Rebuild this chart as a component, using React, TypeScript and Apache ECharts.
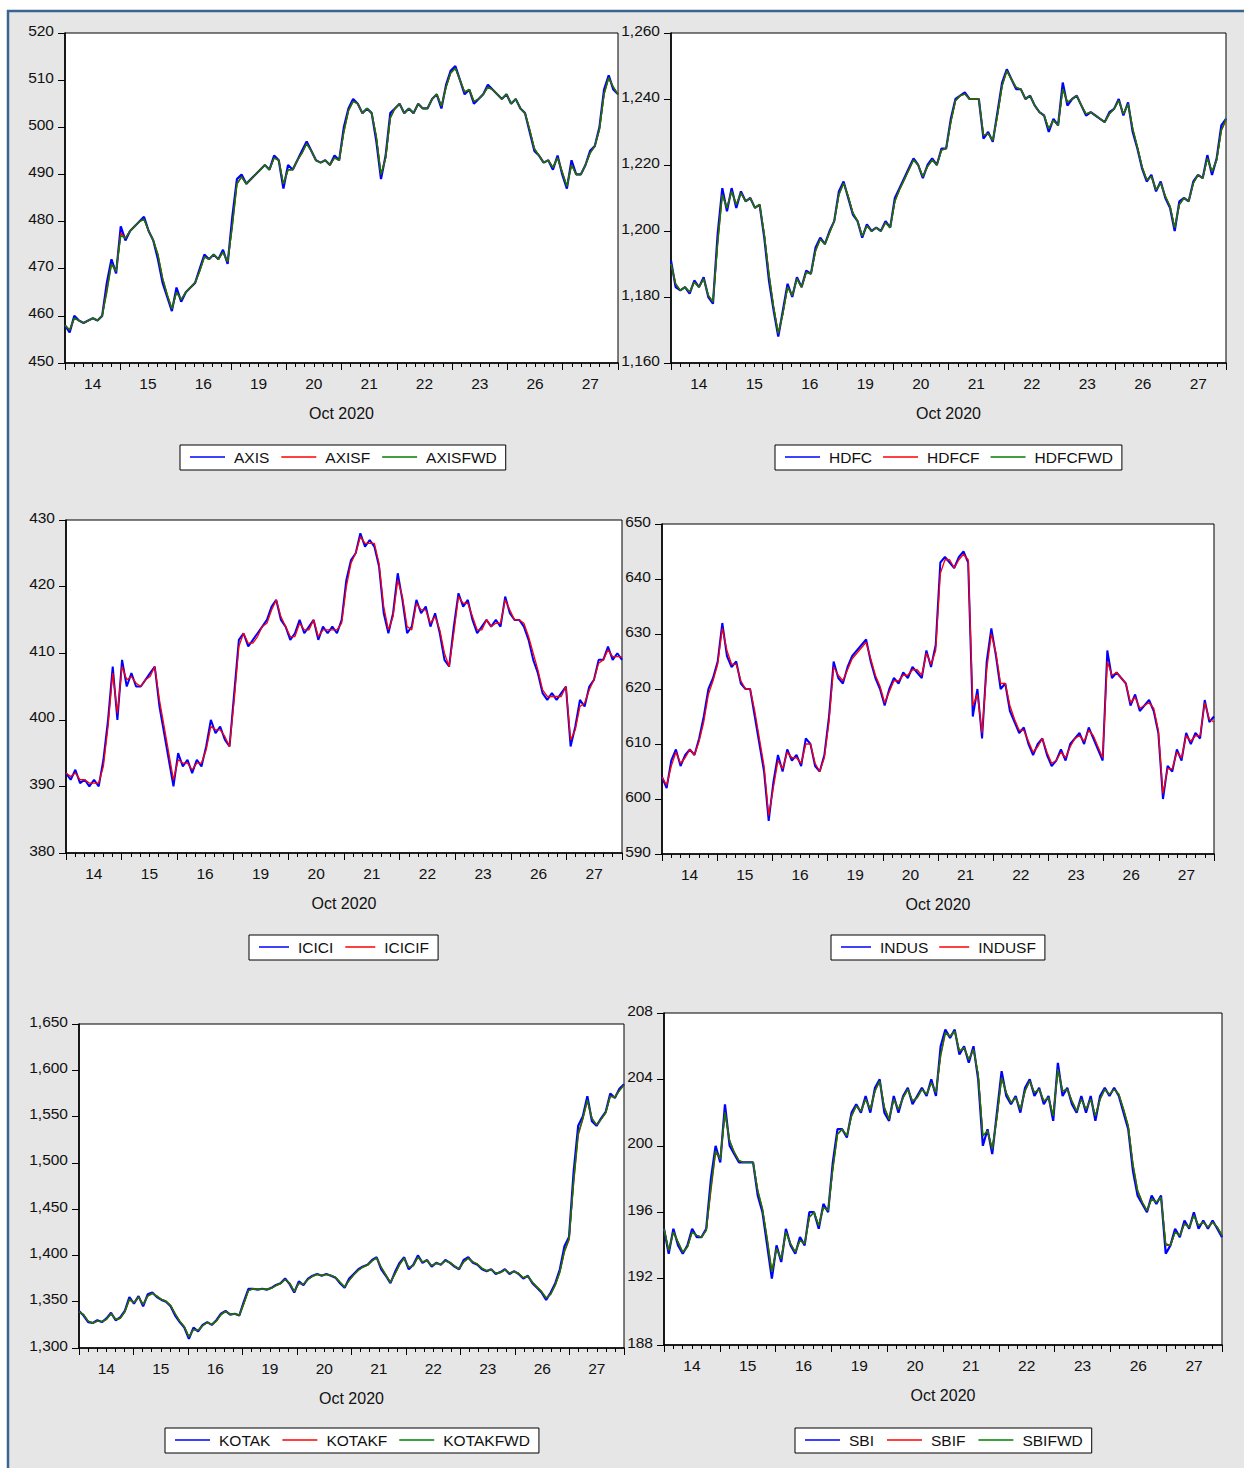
import React, { useEffect, useRef } from 'react';
import * as echarts from 'echarts';

const DAYS = ['14', '15', '16', '19', '20', '21', '22', '23', '26', '27'];
const MONTH_LABEL = 'Oct 2020';

const AXIS = [
  458, 456.5, 460, 459, 458.5, 459, 459.5, 459, 460, 467, 472, 469,
  479, 476, 478, 479, 480, 481, 478, 476, 472, 467, 464, 461,
  466, 463, 465, 466, 467, 470, 473, 472, 473, 472, 474, 471,
  481, 489, 490, 488, 489, 490, 491, 492, 491, 494, 493, 487,
  492, 491, 493, 495, 497, 495, 493, 492.5, 493, 492, 494, 493,
  500, 504, 506, 505, 503, 504, 503, 497, 489, 494, 503, 504,
  505, 503, 504, 503, 505, 504, 504, 506, 507, 504, 509, 512,
  513, 510, 507, 508, 505, 506, 507, 509, 508, 507, 506, 507,
  505, 506, 504, 503, 499, 495, 494, 492.5, 493, 491, 494, 490,
  487, 493, 490, 490, 492, 495, 496, 500, 508, 511, 508, 507,
];
const AXISF = [
  458, 457, 459.5, 459, 458.5, 459, 459.5, 459, 460, 465.5, 471, 469.5,
  477.5, 476.5, 478, 479, 480, 480.5, 478, 476, 473, 468, 464.5, 461.5,
  465, 463.5, 465, 466, 467, 469.5, 472.5, 472, 473, 472, 473.5, 471.5,
  479, 488, 489.5, 488, 489, 490, 491, 492, 491, 493.5, 493, 488,
  491, 491, 493, 494.5, 496.5, 495, 493, 492.5, 493, 492, 493.5, 493,
  499, 503.5, 505.5, 505, 503, 504, 503, 498, 490, 493.5, 502, 504,
  505, 503, 504, 503, 505, 504, 504, 506, 507, 504.5, 508.5, 511.5,
  512.5, 510, 507.5, 508, 505.5, 506, 507, 508.5, 508, 507, 506, 507,
  505, 506, 504, 503, 499.5, 495.5, 494, 492.5, 493, 491.5, 493.5, 490.5,
  487.5, 492, 490, 490, 492, 494.5, 496, 499.5, 507, 510.5, 508.5, 507,
];
const AXISFWD = [
  458, 457, 459.5, 459, 458.5, 459, 459.5, 459, 460, 465, 471, 469.5,
  477, 476.5, 478, 479, 480, 480.5, 478, 476, 473, 468, 464.5, 461.5,
  465, 463.5, 465, 466, 467, 469.5, 472.5, 472, 473, 472, 473.5, 471.5,
  479, 488, 489.5, 488, 489, 490, 491, 492, 491, 493.5, 493, 488,
  491, 491, 493, 494.5, 496.5, 495, 493, 492.5, 493, 492, 493.5, 493,
  499, 503.5, 505.5, 505, 503, 504, 503, 498, 490, 493.5, 502, 504,
  505, 503, 504, 503, 505, 504, 504, 506, 507, 504.5, 508.5, 511.5,
  512.5, 510, 507.5, 508, 505.5, 506, 507, 508.5, 508, 507, 506, 507,
  505, 506, 504, 503, 499.5, 495.5, 494, 492.5, 493, 491.5, 493.5, 490.5,
  487.5, 492, 490, 490, 492, 494.5, 496, 499.5, 507, 510.5, 508.5, 507,
];

const HDFC = [
  1191, 1183, 1182, 1183, 1181, 1185, 1183, 1186, 1180, 1178, 1199, 1213,
  1206, 1213, 1207, 1212, 1209, 1210, 1207, 1208, 1198, 1185, 1176, 1168,
  1176, 1184, 1180, 1186, 1183, 1188, 1187, 1195, 1198, 1196, 1200, 1203,
  1212, 1215, 1210, 1205, 1203, 1198, 1202, 1200, 1201, 1200, 1203, 1201,
  1210, 1213, 1216, 1219, 1222, 1220, 1216, 1220, 1222, 1220, 1225, 1225,
  1234, 1240, 1241, 1242, 1240, 1240, 1240, 1228, 1230, 1227, 1236, 1245,
  1249, 1246, 1243, 1243, 1240, 1241, 1238, 1236, 1235, 1230, 1234, 1232,
  1245, 1238, 1240, 1241, 1238, 1235, 1236, 1235, 1234, 1233, 1236, 1237,
  1240, 1235, 1239, 1230, 1225, 1219, 1215, 1217, 1212, 1215, 1210, 1207,
  1200, 1209, 1210, 1209, 1215, 1217, 1216, 1223, 1217, 1222, 1232, 1234,
];
const HDFCF = [
  1190, 1184, 1182, 1183, 1181.5, 1184.5, 1183, 1185.5, 1180.5, 1178.5, 1196.5, 1211,
  1207, 1212, 1208, 1211.5, 1209, 1210, 1207, 1208, 1199, 1187, 1177, 1169,
  1175, 1183, 1180.5, 1185.5, 1183, 1187.5, 1187, 1194, 1197.5, 1196, 1199.5, 1203,
  1211, 1214.5, 1210.5, 1205.5, 1203, 1198.5, 1201.5, 1200, 1201, 1200, 1202.5, 1201,
  1209, 1212.5, 1215.5, 1218.5, 1221.5, 1220, 1216.5, 1219.5, 1221.5, 1220, 1224.5, 1225,
  1233, 1239.5, 1241, 1241.5, 1240, 1240, 1240, 1229, 1229.5, 1227.5, 1235, 1244,
  1248.5, 1246, 1243.5, 1243, 1240, 1241, 1238, 1236, 1235, 1231, 1233.5, 1232,
  1243, 1239, 1240, 1241, 1238, 1235.5, 1236, 1235, 1234, 1233, 1235.5, 1237,
  1239.5, 1235.5, 1238.5, 1231, 1225.5, 1219.5, 1215.5, 1216.5, 1212.5, 1214.5, 1210.5, 1207.5,
  1201, 1208, 1210, 1209, 1214.5, 1217, 1216, 1222, 1218, 1221.5, 1230.5, 1233.5,
];
const HDFCFWD = [
  1190, 1184, 1182, 1183, 1181.5, 1184.5, 1183, 1185.5, 1180.5, 1178.5, 1196, 1211,
  1207, 1212, 1208, 1211.5, 1209, 1210, 1207, 1208, 1199, 1187, 1177, 1169,
  1175, 1183, 1180.5, 1185.5, 1183, 1187.5, 1187, 1194, 1197.5, 1196, 1199.5, 1203,
  1211, 1214.5, 1210.5, 1205.5, 1203, 1198.5, 1201.5, 1200, 1201, 1200, 1202.5, 1201,
  1209, 1212.5, 1215.5, 1218.5, 1221.5, 1220, 1216.5, 1219.5, 1221.5, 1220, 1224.5, 1225,
  1233, 1239.5, 1241, 1241.5, 1240, 1240, 1240, 1229, 1229.5, 1227.5, 1235, 1244,
  1248.5, 1246, 1243.5, 1243, 1240, 1241, 1238, 1236, 1235, 1231, 1233.5, 1232,
  1243, 1239, 1240, 1241, 1238, 1235.5, 1236, 1235, 1234, 1233, 1235.5, 1237,
  1239.5, 1235.5, 1238.5, 1231, 1225.5, 1219.5, 1215.5, 1216.5, 1212.5, 1214.5, 1210.5, 1207.5,
  1201, 1208, 1210, 1209, 1214.5, 1217, 1216, 1222, 1218, 1221.5, 1230.5, 1234,
];

const ICICI = [
  392, 391, 392.5, 390.5, 391, 390, 391, 390, 394, 400, 408, 400,
  409, 405, 407, 405, 405, 406, 407, 408, 402, 398, 394, 390,
  395, 393, 394, 392, 394, 393, 396, 400, 398, 399, 397, 396,
  404, 412, 413, 411, 412, 413, 414, 415, 417, 418, 415, 414,
  412, 413, 415, 413, 414, 415, 412, 414, 413, 414, 413, 415,
  421, 424, 425, 428, 426, 427, 426, 423, 416, 413, 416, 422,
  418, 413, 414, 418, 416, 417, 414, 416, 413, 409, 408, 414,
  419, 417, 418, 415, 413, 414, 415, 414, 415, 414, 418.5, 416,
  415, 415, 414, 412, 409, 407, 404, 403, 404, 403, 404, 405,
  396, 399, 403, 402, 405, 406, 409, 409, 411, 409, 410, 409,
];
const ICICIF = [
  392, 391.5, 392, 391, 391, 390.5, 390.5, 390.5, 393, 399, 407, 401,
  408, 406, 406.5, 405.5, 405, 406, 406.5, 408, 403, 399, 395, 391,
  394, 393.5, 393.5, 392.5, 393.5, 393.5, 395.5, 399, 398.5, 398.5, 397.5, 396,
  403, 411, 413, 411.5, 411.5, 412.5, 414, 414.5, 416.5, 418, 415.5, 414,
  412.5, 412.5, 414.5, 413.5, 413.5, 415, 412.5, 413.5, 413.5, 413.5, 413.5, 414.5,
  420, 423.5, 425, 427.5, 426.5, 426.5, 426.5, 423.5, 417, 413.5, 415.5, 421,
  418.5, 414, 413.5, 417.5, 416.5, 416.5, 414.5, 415.5, 413.5, 410, 408, 413,
  418.5, 417.5, 417.5, 415.5, 413.5, 413.5, 415, 414, 414.5, 414.5, 418, 416.5,
  415, 415, 414.5, 412.5, 410, 407.5, 404.5, 403.5, 403.5, 403.5, 403.5, 405,
  397, 398.5, 402, 402.5, 404.5, 406, 408.5, 409, 410.5, 409.5, 409.5, 409.5,
];

const INDUS = [
  604, 602, 607, 609, 606, 608, 609, 608, 611, 615, 620, 622,
  625, 632, 626, 624, 625, 621, 620, 620, 615, 610, 605, 596,
  603, 608, 605, 609, 607, 608, 606, 611, 610, 606, 605, 608,
  615, 625, 622, 621, 624, 626, 627, 628, 629, 625, 622, 620,
  617, 620, 622, 621, 623, 622, 624, 623, 622, 627, 624, 628,
  643, 644, 643, 642, 644, 645, 643, 615, 620, 611, 625, 631,
  626, 620, 621, 616, 614, 612, 613, 610, 608, 610, 611, 608,
  606, 607, 609, 607, 610, 611, 612, 610, 613, 611, 609, 607,
  627, 622, 623, 622, 621, 617, 619, 616, 617, 618, 616, 612,
  600, 606, 605, 609, 607, 612, 610, 612, 611, 618, 614, 615,
];
const INDUSF = [
  604, 602.5, 606, 608.5, 606.5, 607.5, 609, 608, 610.5, 614, 619, 621.5,
  624.5, 631, 627, 624.5, 624.5, 621.5, 620, 620, 616, 611, 606, 597,
  602, 607, 605.5, 608.5, 607.5, 607.5, 606.5, 610, 610, 606.5, 605, 607.5,
  614, 624, 622.5, 621.5, 623.5, 625.5, 626.5, 627.5, 628.5, 625.5, 622.5, 620.5,
  617.5, 619.5, 621.5, 621.5, 622.5, 622.5, 623.5, 623.5, 622.5, 626.5, 624.5, 627,
  641, 643.5, 643.5, 642, 643.5, 644.5, 643.5, 617, 619, 612, 623.5, 630,
  626.5, 621, 621, 617, 614.5, 612.5, 612.5, 610.5, 608.5, 609.5, 611, 608.5,
  606.5, 607, 608.5, 607.5, 609.5, 611, 611.5, 610.5, 612.5, 611.5, 609.5, 607.5,
  625, 622.5, 623, 622, 621, 617.5, 618.5, 616.5, 617, 617.5, 616.5, 612.5,
  601, 605.5, 605.5, 608.5, 607.5, 611.5, 610.5, 611.5, 611.5, 617.5, 614.5, 614,
];

const KOTAK = [
  1340, 1335, 1328, 1327, 1330, 1328, 1332, 1338, 1330, 1333, 1340, 1355,
  1348, 1356, 1345, 1358, 1360, 1355, 1352, 1350, 1345, 1335, 1328, 1322,
  1310, 1322, 1318, 1325, 1328, 1325, 1330, 1337, 1340, 1336, 1337, 1335,
  1350, 1364, 1364, 1363, 1364, 1363, 1365, 1368, 1370, 1375, 1369, 1360,
  1372, 1368, 1375, 1378, 1380, 1378, 1380, 1378, 1376, 1370, 1365, 1375,
  1380, 1385, 1388, 1390, 1395, 1398, 1385, 1378, 1370, 1382, 1392, 1398,
  1385, 1390, 1400, 1392, 1395, 1388, 1392, 1390, 1395, 1392, 1388, 1385,
  1395, 1398, 1392, 1390, 1385, 1383, 1385, 1380, 1382, 1385, 1380, 1383,
  1380, 1375, 1378, 1370, 1365, 1360, 1352, 1360, 1370, 1385, 1410, 1420,
  1490, 1540, 1550, 1572, 1545, 1540, 1548, 1555, 1575, 1570, 1580, 1585,
];
const KOTAKF = [
  1339, 1336, 1329, 1327, 1329, 1328.5, 1331, 1337, 1331, 1332, 1339, 1352,
  1349, 1355, 1347, 1356, 1359, 1356, 1352.5, 1350.5, 1346, 1337, 1329, 1323,
  1312, 1320, 1319, 1324, 1327.5, 1325.5, 1329, 1336, 1339.5, 1336.5, 1337, 1335.5,
  1348, 1362, 1364, 1363.5, 1363.5, 1363.5, 1364.5, 1367.5, 1369.5, 1374, 1370, 1361,
  1370, 1369, 1374, 1377.5, 1379.5, 1378.5, 1379.5, 1378.5, 1376.5, 1371, 1366, 1373,
  1379, 1384, 1387.5, 1389.5, 1394, 1397.5, 1387, 1379, 1371, 1380, 1390, 1397,
  1387, 1389, 1398, 1393, 1394.5, 1389, 1391.5, 1390.5, 1394, 1392.5, 1388.5, 1385.5,
  1393, 1397, 1393, 1390.5, 1386, 1383.5, 1384.5, 1381, 1381.5, 1384.5, 1381, 1382.5,
  1380.5, 1376, 1377.5, 1371, 1366, 1361, 1354, 1358, 1368, 1382, 1404, 1417,
  1478, 1530, 1547, 1567, 1548, 1541, 1547, 1554, 1572, 1571, 1578, 1584,
];
const KOTAKFWD = [
  1339, 1336, 1329, 1327, 1329, 1328.5, 1331, 1337, 1331, 1332, 1339, 1353,
  1349, 1355, 1347, 1356, 1359, 1356, 1352.5, 1350.5, 1346, 1337, 1329, 1323,
  1312, 1320, 1319, 1324, 1327.5, 1325.5, 1329, 1336, 1339.5, 1336.5, 1337, 1335.5,
  1348, 1362, 1364, 1363.5, 1363.5, 1363.5, 1364.5, 1367.5, 1369.5, 1374, 1370, 1361,
  1370, 1369, 1374, 1377.5, 1379.5, 1378.5, 1379.5, 1378.5, 1376.5, 1371, 1366, 1373,
  1379, 1384, 1387.5, 1389.5, 1394, 1397.5, 1387, 1379, 1371, 1380, 1390, 1397,
  1387, 1389, 1398, 1393, 1394.5, 1389, 1391.5, 1390.5, 1394, 1392.5, 1388.5, 1385.5,
  1393, 1397, 1393, 1390.5, 1386, 1383.5, 1384.5, 1381, 1381.5, 1384.5, 1381, 1382.5,
  1380.5, 1376, 1377.5, 1371, 1366, 1361, 1354, 1358, 1368, 1382, 1405, 1418,
  1480, 1532, 1548, 1568, 1548, 1541, 1547, 1554, 1572, 1571, 1578, 1584,
];

const SBI = [
  195, 193.5, 195, 194, 193.5, 194, 195, 194.5, 194.5, 195, 198, 200,
  199, 202.5, 200, 199.5, 199, 199, 199, 199, 197, 196, 194, 192,
  194, 193, 195, 194, 193.5, 194.5, 194, 196, 196, 195, 196.5, 196,
  199, 201, 201, 200.5, 202, 202.5, 202, 203, 202, 203.5, 204, 202,
  201.5, 203, 202, 203, 203.5, 202.5, 203, 203.5, 203, 204, 203, 206,
  207, 206.5, 207, 205.5, 206, 205, 206, 204, 200, 201, 199.5, 202,
  204.5, 203, 202.5, 203, 202, 203.5, 204, 203, 203.5, 202.5, 203, 201.5,
  205, 203, 203.5, 202.5, 202, 203, 202, 203, 201.5, 203, 203.5, 203,
  203.5, 203, 202, 201, 198.5, 197, 196.5, 196, 197, 196.5, 197, 193.5,
  194, 195, 194.5, 195.5, 195, 196, 195, 195.5, 195, 195.5, 195, 194.5,
];
const SBIF = [
  195, 193.7, 194.8, 194.2, 193.6, 193.9, 194.8, 194.6, 194.5, 194.9, 197.3, 199.6,
  199.2, 202, 200.3, 199.6, 199.1, 199, 199, 199, 197.3, 196.2, 194.4, 192.4,
  193.8, 193.2, 194.8, 194.1, 193.6, 194.3, 194.1, 195.7, 196, 195.2, 196.3, 196.1,
  198.6, 200.7, 201, 200.6, 201.8, 202.4, 202.1, 202.8, 202.2, 203.3, 203.9, 202.3,
  201.6, 202.8, 202.2, 202.9, 203.4, 202.7, 202.9, 203.4, 203.1, 203.8, 203.2, 205.4,
  206.8, 206.6, 206.9, 205.7, 205.9, 205.2, 205.8, 204.3, 200.6, 200.9, 199.8, 201.7,
  204.1, 203.2, 202.6, 202.9, 202.2, 203.3, 203.9, 203.2, 203.4, 202.7, 202.9, 201.8,
  204.6, 203.3, 203.4, 202.7, 202.1, 202.8, 202.2, 202.8, 201.8, 202.8, 203.4, 203.1,
  203.4, 203.1, 202.2, 201.2, 198.9, 197.3, 196.6, 196.1, 196.8, 196.6, 196.9, 194.1,
  194, 194.8, 194.6, 195.3, 195.1, 195.8, 195.2, 195.4, 195.1, 195.4, 195.1, 194.6,
];
const SBIFWD = [
  195, 193.7, 194.8, 194.2, 193.6, 193.9, 194.8, 194.6, 194.5, 194.9, 197.5, 199.7,
  199.2, 202, 200.3, 199.6, 199.1, 199, 199, 199, 197.3, 196.2, 194.4, 192.4,
  193.8, 193.2, 194.8, 194.1, 193.6, 194.3, 194.1, 195.7, 196, 195.2, 196.3, 196.1,
  198.6, 200.7, 201, 200.6, 201.8, 202.4, 202.1, 202.8, 202.2, 203.3, 203.9, 202.3,
  201.6, 202.8, 202.2, 202.9, 203.4, 202.7, 202.9, 203.4, 203.1, 203.8, 203.2, 205.5,
  206.8, 206.6, 206.9, 205.7, 205.9, 205.2, 205.8, 204.3, 200.6, 200.9, 199.8, 201.7,
  204.1, 203.2, 202.6, 202.9, 202.2, 203.3, 203.9, 203.2, 203.4, 202.7, 202.9, 201.8,
  204.6, 203.3, 203.4, 202.7, 202.1, 202.8, 202.2, 202.8, 201.8, 202.8, 203.4, 203.1,
  203.4, 203.1, 202.2, 201.2, 198.9, 197.3, 196.6, 196.1, 196.8, 196.6, 196.9, 194,
  194, 194.8, 194.6, 195.3, 195.1, 195.8, 195.2, 195.4, 195.1, 195.4, 195.1, 194.6,
];

const FONT = '"Liberation Sans", Arial, Helvetica, sans-serif';
const BLUE = '#0000ff';
const RED = '#ff0000';
const GREEN = '#008000';
const LABEL_SIZE = 15.5;

type S = { name: string; data: number[]; color: string; width: number };
type Panel = {
  left: number; top: number; width: number; height: number;
  min: number; max: number; interval: number;
  series: S[];
  legendLeft: number; legendTop: number; legendGap: number; legendLine: number;
};

const PANELS: Panel[] = [
  {
    left: 65, top: 33, width: 553, height: 330, min: 450, max: 520, interval: 10,
    series: [
      { name: 'AXIS', data: AXIS, color: BLUE, width: 2.2 },
      { name: 'AXISF', data: AXISF, color: RED, width: 1.4 },
      { name: 'AXISFWD', data: AXISFWD, color: GREEN, width: 1.4 },
    ],
    legendLeft: 180, legendTop: 445, legendGap: 12, legendLine: 35,
  },
  {
    left: 671, top: 33, width: 555, height: 330, min: 1160, max: 1260, interval: 20,
    series: [
      { name: 'HDFC', data: HDFC, color: BLUE, width: 2.2 },
      { name: 'HDFCF', data: HDFCF, color: RED, width: 1.4 },
      { name: 'HDFCFWD', data: HDFCFWD, color: GREEN, width: 1.4 },
    ],
    legendLeft: 775, legendTop: 445, legendGap: 11, legendLine: 35,
  },
  {
    left: 66, top: 520, width: 556, height: 333, min: 380, max: 430, interval: 10,
    series: [
      { name: 'ICICI', data: ICICI, color: BLUE, width: 2 },
      { name: 'ICICIF', data: ICICIF, color: RED, width: 1.3 },
    ],
    legendLeft: 249, legendTop: 935, legendGap: 12, legendLine: 30,
  },
  {
    left: 662, top: 524, width: 552, height: 330, min: 590, max: 650, interval: 10,
    series: [
      { name: 'INDUS', data: INDUS, color: BLUE, width: 2 },
      { name: 'INDUSF', data: INDUSF, color: RED, width: 1.3 },
    ],
    legendLeft: 831, legendTop: 935, legendGap: 11, legendLine: 30,
  },
  {
    left: 79, top: 1024, width: 545, height: 324, min: 1300, max: 1650, interval: 50,
    series: [
      { name: 'KOTAK', data: KOTAK, color: BLUE, width: 2.2 },
      { name: 'KOTAKF', data: KOTAKF, color: RED, width: 1.4 },
      { name: 'KOTAKFWD', data: KOTAKFWD, color: GREEN, width: 1.4 },
    ],
    legendLeft: 165, legendTop: 1428, legendGap: 12, legendLine: 35,
  },
  {
    left: 664, top: 1013, width: 558, height: 332, min: 188, max: 208, interval: 4,
    series: [
      { name: 'SBI', data: SBI, color: BLUE, width: 2.2 },
      { name: 'SBIF', data: SBIF, color: RED, width: 1.4 },
      { name: 'SBIFWD', data: SBIFWD, color: GREEN, width: 1.4 },
    ],
    legendLeft: 795, legendTop: 1428, legendGap: 13, legendLine: 35,
  },
];

function buildOption() {
  const grid: any[] = [];
  const xAxis: any[] = [];
  const yAxis: any[] = [];
  const series: any[] = [];
  const legend: any[] = [];
  PANELS.forEach((p, k) => {
    grid.push({
      left: p.left, top: p.top, width: p.width, height: p.height,
      show: true, backgroundColor: '#ffffff', borderColor: '#000', borderWidth: 1,
    });
    const idx = p.series[0].data.map((_, i) => String(i));
    xAxis.push({
      type: 'value', gridIndex: k, position: 'bottom', min: 0, max: DAYS.length, interval: 1,
      axisLine: { show: true, lineStyle: { color: '#000', width: 1.6 } },
      axisTick: { show: true, length: 7, lineStyle: { color: '#000', width: 1 } },
      minorTick: { show: true, splitNumber: 6, length: 4, lineStyle: { color: '#000', width: 1 } },
      axisLabel: { show: false }, splitLine: { show: false }, minorSplitLine: { show: false },
    });
    xAxis.push({
      type: 'category', gridIndex: k, position: 'bottom', data: DAYS, boundaryGap: true,
      axisLine: { show: false }, axisTick: { show: false }, splitLine: { show: false },
      axisLabel: { fontSize: LABEL_SIZE, color: '#111', margin: 12, fontFamily: FONT, interval: 0 },
      name: MONTH_LABEL, nameLocation: 'middle', nameGap: 42,
      nameTextStyle: { fontSize: 16, color: '#111', fontFamily: FONT },
    });
    xAxis.push({
      type: 'category', gridIndex: k, position: 'top', data: idx, boundaryGap: false, show: false,
    });
    yAxis.push({
      type: 'value', gridIndex: k, min: p.min, max: p.max, interval: p.interval,
      axisLine: { show: true, lineStyle: { color: '#000', width: 1.6 } },
      axisTick: { show: true, length: 7, lineStyle: { color: '#000' } },
      axisLabel: {
        fontSize: LABEL_SIZE, color: '#111', margin: 11, fontFamily: FONT,
        verticalAlign: 'bottom', lineHeight: 6,
        formatter: (v: number) => v.toLocaleString('en-US'),
      },
      splitLine: { show: false },
    });
    p.series.forEach((s) => {
      series.push({
        type: 'line', name: s.name, xAxisIndex: k * 3 + 2, yAxisIndex: k,
        data: s.data, symbol: 'none', showSymbol: false, silent: true,
        color: s.color,
        lineStyle: { color: s.color, width: s.width },
        itemStyle: { color: s.color },
      });
    });
    legend.push({
      left: p.legendLeft, top: p.legendTop, orient: 'horizontal',
      data: p.series.map((s) => s.name),
      icon: 'rect', itemWidth: p.legendLine, itemHeight: 1.5, itemGap: p.legendGap,
      padding: [4, 9, 5, 10], borderColor: '#000', borderWidth: 1, backgroundColor: '#fff',
      selectedMode: false,
      textStyle: { fontSize: LABEL_SIZE, color: '#111', fontFamily: FONT, padding: [0, 0, 0, 4] },
    });
  });
  return {
    animation: false,
    backgroundColor: '#e6e6e6',
    textStyle: { fontFamily: FONT },
    grid, xAxis, yAxis, series, legend,
    graphic: [
      { type: 'rect', silent: true, shape: { x: 0, y: 0, width: 1244, height: 10 }, style: { fill: '#ffffff' } },
      { type: 'rect', silent: true, shape: { x: 0, y: 0, width: 7, height: 1468 }, style: { fill: '#ffffff' } },
      { type: 'line', silent: true, shape: { x1: 7, y1: 11, x2: 1244, y2: 11 }, style: { stroke: '#3a6491', lineWidth: 2.5 } },
      { type: 'line', silent: true, shape: { x1: 8, y1: 10, x2: 8, y2: 1468 }, style: { stroke: '#3a6491', lineWidth: 2.5 } },
    ],
  };
}

export default function App() {
  const ref = useRef<HTMLDivElement>(null);
  useEffect(() => {
    if (!ref.current) return;
    const chart = echarts.init(ref.current, undefined, { renderer: 'svg' });
    chart.setOption(buildOption() as any);
    return () => chart.dispose();
  }, []);
  return (
    <div
      ref={ref}
      style={{ position: 'absolute', left: 0, top: 0, width: 1244, height: 1468 }}
    />
  );
}
